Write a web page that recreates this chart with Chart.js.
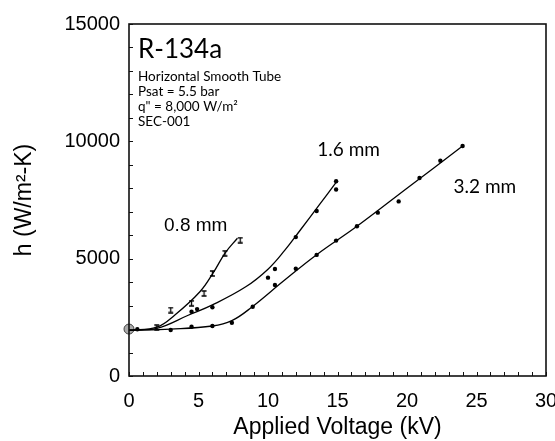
<!DOCTYPE html>
<html>
<head>
<meta charset="utf-8">
<script src="https://cdn.jsdelivr.net/npm/chart.js@4"></script>
<style>
  html, body { margin: 0; padding: 0; background: #fff; }
  #wrap { width: 555px; height: 441px; }
</style>
</head>
<body>
<div id="wrap"><canvas id="hChart" width="555" height="441"></canvas></div>
<script>
const tube08X = [2.0, 3.0, 4.5, 5.4, 6.0, 6.9, 8.0];
const tube08Y = [2060, 2810, 3100, 3520, 4370, 5230, 5790];
const tube16X = [4.5, 4.9, 6.0, 10.0, 10.5, 12.0, 13.5, 14.9, 14.9];
const tube16Y = [2740, 2850, 2930, 4190, 4560, 5920, 7030, 8300, 7950];
const tube32X = [0.6, 3.0, 4.5, 6.0, 7.4, 8.9, 10.5, 12.0, 13.5, 14.9, 16.4, 17.9, 19.4, 20.9, 22.4, 24.0];
const tube32Y = [1990, 1960, 2100, 2130, 2270, 2950, 3880, 4570, 5160, 5770, 6380, 6960, 7440, 8440, 9170, 9800];

// zero-voltage point shared by all tubes
const zeroX = [0];
const zeroY = [2000];

// fitted curves
const fit08X = [0, 2, 3.3, 5.1, 6.1, 6.9, 7.8];
const fit08Y = [1950, 2080, 2600, 3590, 4440, 5230, 5870];
const fit16X = [0, 2, 4.3, 6.0, 8.4, 10.0, 11.2, 12.3, 13.7, 14.9];
const fit16Y = [1950, 2030, 2600, 3030, 3800, 4550, 5350, 6200, 7300, 8250];
const fit32X = [0, 3, 6, 7.4, 8.8, 11.2, 13.5, 16.4, 20, 24];
const fit32Y = [1950, 2000, 2130, 2360, 2920, 4090, 5170, 6380, 8000, 9800];

const xTickLabels = [0, 5, 10, 15, 20, 25, 30];
const yTickLabels = [0, 5000, 10000, 15000];

const pts = (xs, ys) => xs.map((x, i) => ({ x: x, y: ys[i] }));

// small "I" marker used for the 0.8 mm tube
function barMarker() {
  const c = document.createElement("canvas");
  c.width = 7;
  c.height = 7;
  const g = c.getContext("2d");
  g.strokeStyle = "#000";
  g.lineWidth = 1.3;
  g.beginPath();
  g.moveTo(1, 1); g.lineTo(6, 1);
  g.moveTo(3.5, 1); g.lineTo(3.5, 6);
  g.moveTo(1, 6); g.lineTo(6, 6);
  g.stroke();
  return c;
}

const gill = "Lato, 'Open Sans', sans-serif";
const arial = "'Liberation Sans', Arial, sans-serif";

// inward ticks, frame and the text on the plot
const framePlugin = {
  id: "framePlugin",
  afterDraw(chart) {
    const { ctx, chartArea: a, scales: { x, y } } = chart;
    ctx.save();
    ctx.strokeStyle = "#111";
    ctx.lineWidth = 1;
    x.ticks.forEach((t) => {
      const px = Math.round(x.getPixelForValue(t.value)) + 0.5;
      ctx.beginPath();
      ctx.moveTo(px, a.bottom);
      ctx.lineTo(px, a.bottom - 4);
      ctx.stroke();
    });
    y.ticks.forEach((t) => {
      const py = Math.round(y.getPixelForValue(t.value)) + 0.5;
      ctx.beginPath();
      ctx.moveTo(a.left, py);
      ctx.lineTo(a.left + 4, py);
      ctx.stroke();
    });
    ctx.lineWidth = 1.6;
    ctx.strokeRect(a.left, a.top, a.right - a.left, a.bottom - a.top);

    ctx.fillStyle = "#000";
    ctx.textBaseline = "middle";
    ctx.textAlign = "left";
    ctx.font = "26px " + gill;
    ctx.fillText("R-134a", a.left + 9, 50);
    ctx.font = "13.5px " + gill;
    ctx.fillText("Horizontal Smooth Tube", a.left + 9, 77);
    ctx.fillText("Psat = 5.5 bar", a.left + 9, 92);
    ctx.fillText("q\" = 8,000 W/m\u00B2", a.left + 9, 107);
    ctx.fillText("SEC-001", a.left + 9, 122);

    ctx.textAlign = "center";
    ctx.font = "19px " + arial;
    ctx.fillText("0.8 mm", x.getPixelForValue(4.8), y.getPixelForValue(6390));
    ctx.font = "19px " + gill;
    ctx.fillText("1.6 mm", x.getPixelForValue(15.8), y.getPixelForValue(9630));
    ctx.fillText("3.2 mm", x.getPixelForValue(25.6), y.getPixelForValue(8050));
    ctx.restore();
  },
};

const dotStyle = {
  showLine: false,
  pointRadius: 2.2,
  pointBackgroundColor: "#000",
  pointBorderColor: "#000",
  pointBorderWidth: 0,
};
const fitStyle = {
  showLine: true,
  pointRadius: 0,
  borderColor: "#000",
  borderWidth: 1.3,
  tension: 0.4,
  fill: false,
};

const ctx = document.getElementById("hChart").getContext("2d");
const hChart = new Chart(ctx, {
  type: "scatter",
  data: {
    datasets: [
      Object.assign({ label: "fit 0.8", data: pts(fit08X, fit08Y) }, fitStyle),
      Object.assign({ label: "fit 1.6", data: pts(fit16X, fit16Y) }, fitStyle),
      Object.assign({ label: "fit 3.2", data: pts(fit32X, fit32Y) }, fitStyle),
      {
        label: "0.8 mm",
        data: pts(tube08X, tube08Y),
        pointStyle: barMarker(),
        showLine: false,
      },
      Object.assign({ label: "1.6 mm", data: pts(tube16X, tube16Y) }, dotStyle),
      Object.assign({ label: "3.2 mm", data: pts(tube32X, tube32Y) }, dotStyle),
      {
        label: "0 kV",
        data: pts(zeroX, zeroY),
        showLine: false,
        clip: 8,
        pointRadius: 5,
        pointBackgroundColor: "#aaa",
        pointBorderColor: "#444",
        pointBorderWidth: 1,
      },
    ],
  },
  options: {
    responsive: false,
    animation: false,
    layout: { padding: { left: 0, top: 24, right: 9, bottom: 0 } },
    plugins: {
      legend: { display: false },
      tooltip: { enabled: false },
    },
    scales: {
      x: {
        type: "linear",
        min: 0,
        max: 30,
        border: { display: false },
        grid: { display: false, drawTicks: false },
        ticks: {
          stepSize: 1,
          autoSkip: false,
          maxRotation: 0,
          padding: 13,
          color: "#000",
          font: { family: arial, size: 20 },
          callback: (v) => (xTickLabels.includes(v) ? String(v) : ""),
        },
        title: {
          display: true,
          text: "Applied Voltage (kV)",
          color: "#000",
          font: { family: arial, size: 23 },
          padding: { top: 0, bottom: 0 },
        },
        afterFit: (scale) => {
          scale.height = 65;
          scale.paddingLeft = 0;
          scale.paddingRight = 0;
        },
      },
      y: {
        type: "linear",
        min: 0,
        max: 15000,
        border: { display: false },
        grid: { display: false, drawTicks: false },
        ticks: {
          stepSize: 1000,
          autoSkip: false,
          padding: 9,
          color: "#000",
          font: { family: arial, size: 20 },
          callback: (v) => (yTickLabels.includes(v) ? String(v) : ""),
        },
        title: {
          display: true,
          text: "h (W/m\u00B2-K)",
          color: "#000",
          font: { family: arial, size: 23 },
          padding: { top: 11, bottom: 0 },
        },
        afterFit: (scale) => {
          scale.width = 129;
          scale.paddingTop = 0;
          scale.paddingBottom = 0;
        },
      },
    },
  },
  plugins: [framePlugin],
});
</script>
</body>
</html>
